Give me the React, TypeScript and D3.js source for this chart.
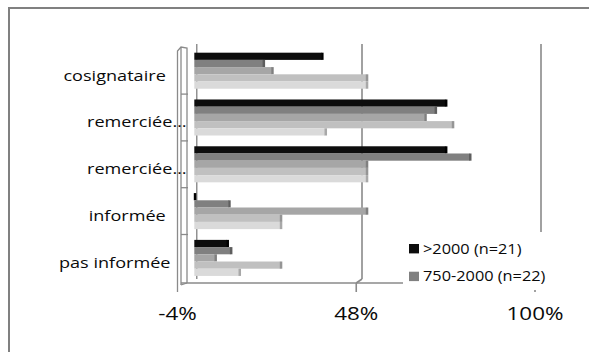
import React from "react";
import * as d3 from "d3";

const categories = ["cosignataire ", "remerciée…", "remerciée…", "informée ", "pas informée"];
const legendLabels = [">2000 (n=21)", "750-2000 (n=22)"];
const s1 = [37, 73, 73, 0, 9.5];
const s2 = [20, 70, 80, 10, 10.5];
const s3 = [22.5, 67, 50, 50, 6];
const s4 = [50, 75, 50, 25, 25];
const s5 = [50, 38, 50, 25, 13];
const xTicks = [-4, 48, 100];

const series = [s1, s2, s3, s4, s5];
const fills = ["#0d0d0d", "#808080", "#a6a6a6", "#c0c0c0", "#dadada"];
const edges = ["#000000", "#5e5e5e", "#808080", "#959595", "#a8a8a8"];
const gridColor = "#8a8a8a";
const FONT = "'Open Sans', 'Liberation Sans', sans-serif";

export default function App() {
  const W = 589, H = 352;
  const y = d3.scaleBand<number>().domain(d3.range(categories.length)).range([47.3, 281.3]).paddingInner(0.23).paddingOuter(0.115);
  const ys = d3.scaleBand<number>().domain(d3.range(series.length)).range([0, y.bandwidth()]);
  const xBar = d3.scaleLinear().domain([0, 100]).range([194.3, 538.3]);
  const xBack = d3.scaleLinear().domain([-4, 100]).range([183, 541]);
  const xFront = d3.scaleLinear().domain([-4, 100]).range([177.5, 535]);
  const top = 44, floorY = 283, tickBot = 292;

  const boundaries = d3.range(categories.length + 1).map((i) =>
    i === 0 ? y(0)! - 5 : i === categories.length ? y(i - 1)! + y.bandwidth() + 5 : (y(i - 1)! + y.bandwidth() + y(i)!) / 2
  );

  return (
    <svg width={W} height={H} style={{ position: "absolute", left: 0, top: 0, background: "#fff" }} fontFamily={FONT}>
      <rect x={0} y={0} width={W} height={H} fill="#fff" />
      <rect x={9} y={8} width={W + 10} height={H + 10} fill="none" stroke="#808080" strokeWidth={2} />

      {/* back gridlines */}
      {xTicks.slice(1).map((t) => (
        <g key={t}>
          <line x1={xBack(t)} x2={xBack(t)} y1={top} y2={floorY - 4} stroke={gridColor} strokeWidth={1.6} />
          <line x1={xBack(t)} x2={xFront(t)} y1={floorY - 4} y2={floorY} stroke={gridColor} strokeWidth={1.6} />
          <line x1={xFront(t)} x2={xFront(t)} y1={floorY} y2={tickBot} stroke={gridColor} strokeWidth={1.6} />
        </g>
      ))}
      {/* zero axis line */}
      <line x1={xBack(0)} x2={xBack(0)} y1={top} y2={floorY - 4} stroke={gridColor} strokeWidth={1.4} />

      {/* left wall */}
      <g stroke={gridColor} strokeWidth={1.3} fill="none">
        <path d={`M${xFront(-4)},${tickBot} L${xFront(-4)},51 L181,47 L187,48 L187,${floorY}`} />
        <line x1={181} x2={181} y1={47} y2={floorY + 2} />
        <line x1={181} x2={187} y1={floorY + 2} y2={floorY} />
        {boundaries.slice(1, -1).map((b, i) => (
          <line key={i} x1={181} x2={188} y1={b} y2={b} />
        ))}
      </g>
      {/* floor */}
      <line x1={181} x2={541} y1={floorY} y2={floorY} stroke={gridColor} strokeWidth={1.6} />

      {/* bars */}
      {categories.map((c, ci) => (
        <g key={ci}>
          {series.map((s, si) => {
            const yy = y(ci)! + ys(si)!;
            const x0 = xBar(0);
            const x1 = xBar(s[ci]);
            return (
              <g key={si}>
                <rect x={x0} y={yy} width={Math.max(0, x1 - x0)} height={ys.bandwidth()} fill={fills[si]} />
                <rect x={x1 - 0.5} y={yy} width={2.5} height={ys.bandwidth()} fill={edges[si]} />
              </g>
            );
          })}
        </g>
      ))}

      {/* category labels */}
      {categories.map((c, ci) => {
        const cy = y(ci)! + y.bandwidth() / 2 + 9.8;
        const xe = c.endsWith("…") ? 186.5 : 170.5;
        return (
          <text key={ci} transform={`translate(${xe},${cy}) scale(1.24,1)`} textAnchor="end" fontSize={14.6} fill="#0a0a0a" style={{ whiteSpace: "pre" }}>
            {c}
          </text>
        );
      })}

      {/* tick labels */}
      {xTicks.map((t) => (
        <text key={t} transform={`translate(${xFront(t)},320) scale(1.18,1)`} textAnchor="middle" fontSize={19} fill="#0a0a0a">
          {`${t}%`}
        </text>
      ))}

      {/* legend */}
      <rect x={403} y={232} width={155} height={58} fill="#fff" />
      {legendLabels.map((l, i) => (
        <g key={l} transform={`translate(409,${244 + i * 27.7})`}>
          <rect x={0} y={0} width={10} height={9.4} fill={fills[i]} />
          <text transform={`translate(14,9.6) scale(1.2,1)`} fontSize={13.6} fill="#0a0a0a">
            {l}
          </text>
        </g>
      ))}
    </svg>
  );
}
